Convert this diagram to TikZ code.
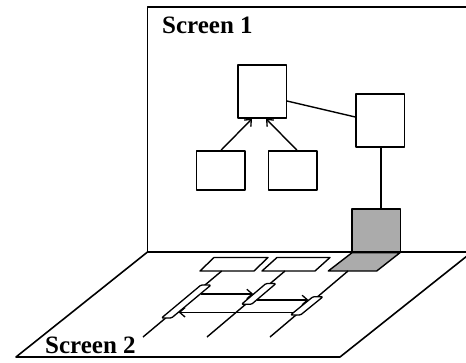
\documentclass[tikz,border=0pt]{standalone}
\usepackage{fontspec}
\setmainfont{Liberation Serif}
\usetikzlibrary{arrows.meta,calc}
\begin{document}
\begin{tikzpicture}[x=1pt,y=-1pt,line join=round,
  box/.style={draw,line width=1.5pt,fill=white,inner sep=0pt,minimum width=48.5pt,minimum height=#1},
  gbox/.style={box=43pt,fill=black!33},
  plate/.style={draw,line width=1.4pt,fill=white},
  gplate/.style={plate,fill=black!33},
  tag/.style={draw,line width=1.3pt,fill=white,rounded corners=1.2pt},
  wire/.style={line width=1.4pt},
  frame/.style={line width=1.6pt},
  arr/.style={line width=1.4pt,-{Straight Barb[length=5.5pt,width=9.5pt,line width=1.3pt]}},
  lbl/.style={anchor=base west,inner sep=0pt,font=\fontsize{25}{29}\selectfont\bfseries}]
\useasboundingbox (0,0) rectangle (466,362);
\clip (0,0) rectangle (466,362);
% screen 1 and floor (screen 2)
\draw[frame] (147.5,252) -- (147.5,7) -- (480,7);
\draw[frame] (16,357) -- (147.5,252) -- (472,252) -- (340,357) -- cycle;
\node[lbl] (s1) at (162,33) {Screen 1};
\node[lbl] (s2) at (45,353) {Screen 2};
% boxes on screen 1
\node[box=53pt] (top) at (262,91.5) {};
\node[box=53pt] (rb) at (380.3,120.5) {};
\node[box=39pt] (lb) at (220.5,170.5) {};
\node[box=39pt] (mb) at (292.5,170.5) {};
\node[gbox] (gb) at (376,230.5) {};
\draw[wire] (top.east |- 0,101) -- (rb.west |- 0,117);
\draw[arr] (lb.north -| 221,0) -- (top.south -| 252,0);
\draw[arr] (mb.north -| 297,0) -- (top.south -| 266,0);
\draw[wire] (rb.south -| 381,0) -- (gb.north -| 381,0);
% plates on the floor
\draw[plate] (214,257.5) -- (268,257.5) -- (254,271) -- (200,271) -- cycle;
\draw[plate] (277,257.5) -- (330,257.5) -- (315,271) -- (262,271) -- cycle;
\draw[gplate] (352,252.7) -- (400,252.7) -- (376.7,271) -- (328.3,271) -- cycle;
\coordinate (p1) at (221.7,271);
\coordinate (p2) at (285,271);
\coordinate (p3) at (348,271);
\coordinate (e1) at (143,337);
\coordinate (e2) at (207,337);
\coordinate (e3) at (270,337);
\draw[wire] (p1) -- (e1);
\draw[wire] (p2) -- (e2);
\draw[wire] (p3) -- (e3);
% tags on the lines
\draw[tag] (201,285) -- (211,285) -- (171.5,318) -- (161.5,318) -- cycle;
\draw[tag] (266,283.5) -- (276,283.5) -- (251.5,304.3) -- (241.5,304.3) -- cycle;
\draw[tag] (313,296.7) -- (323,296.7) -- (300.5,315) -- (290.5,315) -- cycle;
\coordinate (a1s) at (200.5,294);
\coordinate (a1e) at (253.3,294);
\coordinate (a2s) at (256.8,300);
\coordinate (a2e) at (308.6,300);
\coordinate (a3s) at (293.6,312.3);
\coordinate (a3e) at (178.6,312.3);
\draw[arr] (a1s) -- (a1e);
\draw[arr] (a2s) -- (a2e);
\draw[arr] (a3s) -- (a3e);
\end{tikzpicture}
\end{document}
